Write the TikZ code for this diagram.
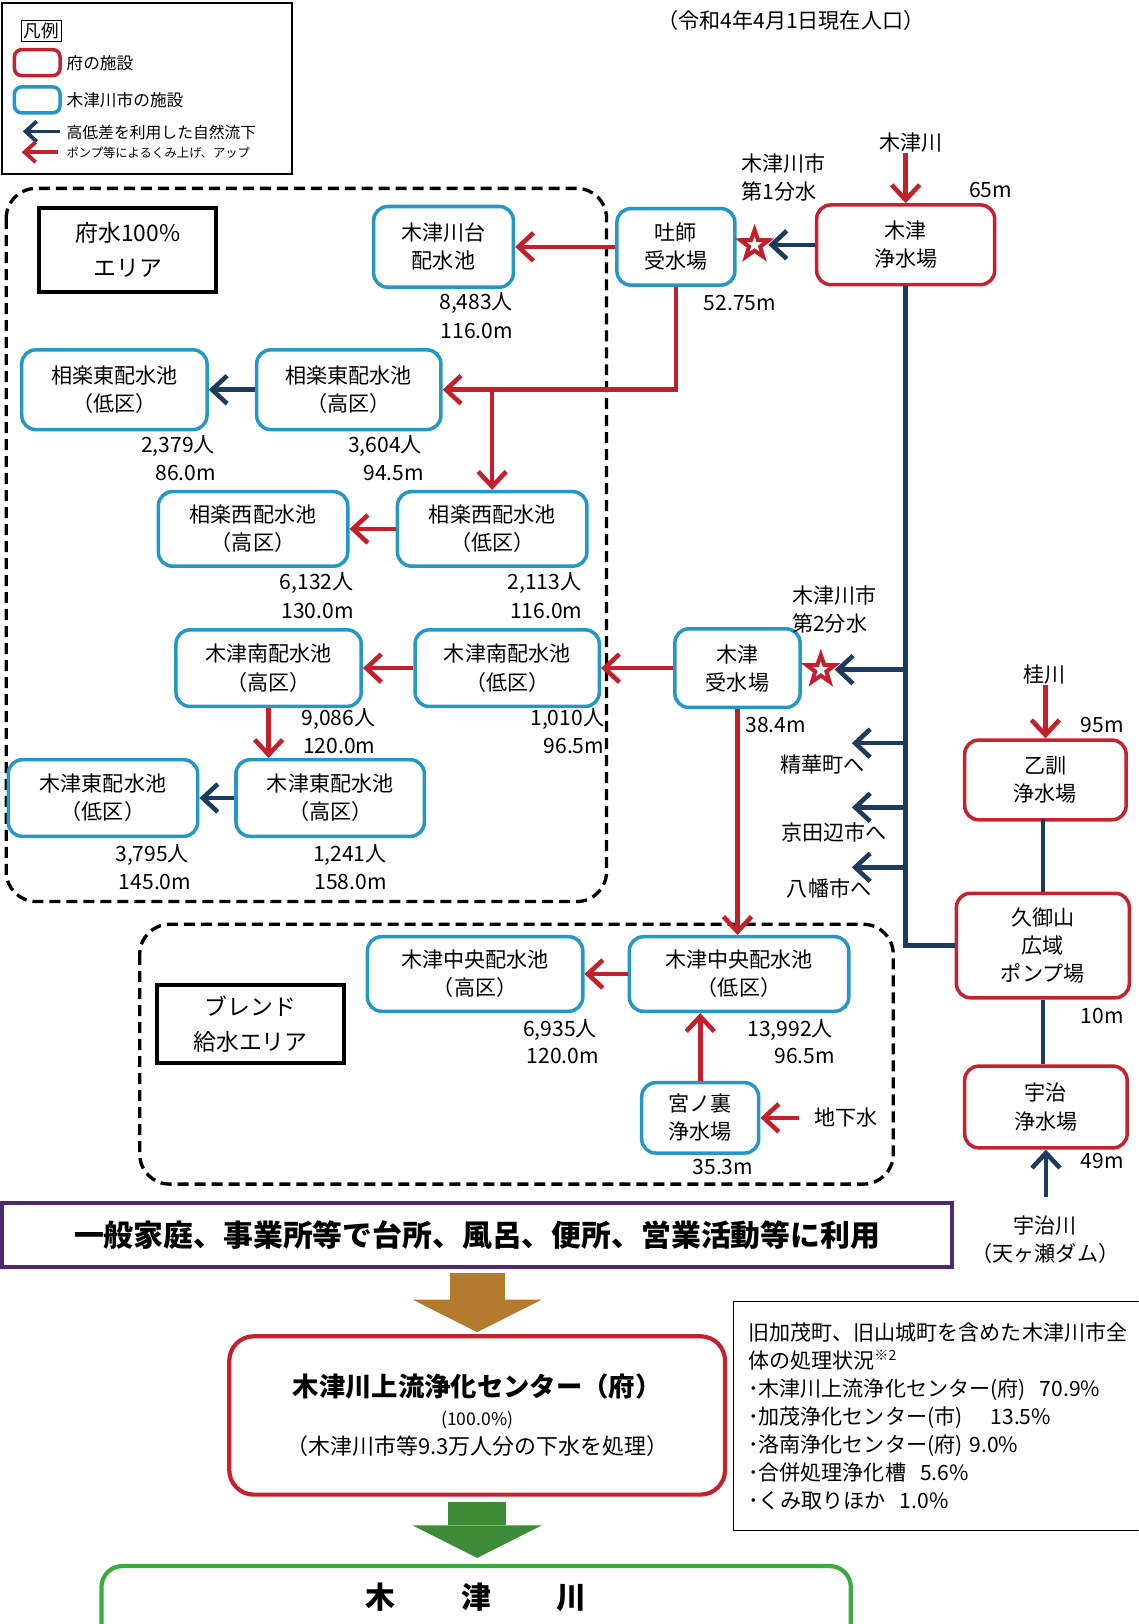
\documentclass[tikz,border=0pt]{standalone}
\usepackage{fontspec}
\setmainfont{Noto Sans CJK JP}
\usetikzlibrary{arrows.meta,shapes.geometric}

\definecolor{prefred}{HTML}{C6212E}
\definecolor{cityblue}{HTML}{2397C6}
\definecolor{navy}{HTML}{1D3B5F}
\definecolor{pumpred}{HTML}{C3202C}
\definecolor{usepurple}{HTML}{52296F}
\definecolor{sewerbrown}{HTML}{B47A2E}
\definecolor{riverline}{HTML}{3DAA3F}
\definecolor{riverarrow}{HTML}{3E8B37}

\tikzset{
  sz/.style 2 args={minimum width=#1*0.2071mm, minimum height=#2*0.2071mm},
  fac/.style={rounded corners=8pt, line width=2pt, fill=white, align=center, inner sep=0pt, font=\fontsize{12}{16}\selectfont},
  fu/.style={fac, draw=prefred},
  shi/.style={fac, draw=cityblue},
  tag/.style={draw, line width=2.2pt, align=center, inner sep=0pt, font=\fontsize{13}{20}\selectfont},
  area/.style={draw, line width=1.9pt, rounded corners=17pt, dash pattern=on 2.2mm off 1.2mm},
  lbl/.style={anchor=east, inner sep=0pt, font=\fontsize{12}{15}\selectfont},
  txt/.style={inner sep=0pt, font=\fontsize{12}{16}\selectfont},
  nat/.style={draw=navy, line width=2.6pt, -{Straight Barb[length=3mm, width=5.6mm]}},
  pmp/.style={draw=pumpred, line width=2.6pt, -{Straight Barb[length=3mm, width=5.6mm]}},
  pipe/.style={draw=navy, line width=2.6pt},
  blk/.style={line width=#1, -{Triangle[length=6.5mm, width=25.8mm, line width=0pt]}},
  bunsui/.style={star, star points=5, star point ratio=2.5, draw=pumpred, fill=white, line width=2.3pt, inner sep=0pt, minimum size=5.9mm},
}

\begin{document}
\begin{tikzpicture}[x=0.2071mm, y=-0.2071mm]
    \useasboundingbox (0, 0) rectangle (1100, 1569);
    \clip (0, 0) rectangle (1100, 1569);
    \fill[white] (0, 0) rectangle (1100, 1569);
    \draw[line width=0.8pt] (2, 3) rectangle (282, 168);
    \node[draw, line width=0.7pt, inner sep=1.5pt, font=\fontsize{10}{12}\selectfont] (lgT) at (40, 30){凡例};
    \node[fac, draw=prefred, sz={44}{25}, rounded corners=4pt] (lgF) at (36, 60.5){};
    \node[fac, draw=cityblue, sz={44}{25}, rounded corners=4pt] (lgS) at (36, 96.5){};
    \node[anchor=west, inner sep=0pt, font=\fontsize{9.5}{12}\selectfont] (lgFt) at (64, 61){府の施設};
    \node[anchor=west, inner sep=0pt, font=\fontsize{9.5}{12}\selectfont] (lgSt) at (64, 97){木津川市の施設};
    \node[anchor=west, inner sep=0pt, font=\fontsize{9}{12}\selectfont] (lgNt) at (64, 128){高低差を利用した自然流下};
    \node[anchor=west, inner sep=0pt, font=\fontsize{7}{9}\selectfont] (lgPt) at (64, 148){ポンプ等によるくみ上げ、アップ};
    \coordinate (lgN0) at (58, 127);
    \coordinate (lgN1) at (22, 127);
    \coordinate (lgP0) at (56, 147);
    \coordinate (lgP1) at (21, 147);
    \draw[nat, line width=2.2pt, -{Straight Barb[length=2.2mm, width=4mm]}] (lgN0) -- (lgN1);
    \draw[pmp, line width=2.2pt, -{Straight Barb[length=2.2mm, width=4mm]}] (lgP0) -- (lgP1);
    \node[txt, font=\fontsize{12}{14}\selectfont] (date) at (764, 20){（令和4年4月1日現在人口）};

    \draw[area] (6, 182) rectangle (586, 871);
    \draw[area] (135, 893) rectangle (863, 1144);
    \node[tag, sz={171}{81}] (T1) at (123.5, 241.5){府水100\%\\エリア};
    \node[tag, sz={180}{75}] (T2) at (242, 989.5){ブレンド\\給水エリア};

    \node[fu, sz={172}{77}] (KJ) at (875, 236.5){木津\\浄水場};
    \node[shi, sz={114}{74}] (HJ) at (653, 238.5){吐師\\受水場};
    \node[shi, sz={135}{78}] (KD) at (428.5, 238.5){木津川台\\配水池};
    \node[shi, sz={179}{77}] (SHL) at (110.5, 376.5){相楽東配水池\\（低区）};
    \node[shi, sz={178}{77}] (SHH) at (337, 376.5){相楽東配水池\\（高区）};
    \node[shi, sz={183}{72}] (SWH) at (244.5, 511){相楽西配水池\\（高区）};
    \node[shi, sz={183}{72}] (SWL) at (475.5, 511){相楽西配水池\\（低区）};
    \node[shi, sz={179}{74}] (MSH) at (259.5, 645.5){木津南配水池\\（高区）};
    \node[shi, sz={178}{74}] (MSL) at (490, 645.5){木津南配水池\\（低区）};
    \node[shi, sz={121}{76}] (KSJ) at (712.5, 645.5){木津\\受水場};
    \node[shi, sz={183}{74}] (KEL) at (99.5, 771){木津東配水池\\（低区）};
    \node[shi, sz={182}{74}] (KEH) at (319, 771){木津東配水池\\（高区）};
    \node[shi, sz={208}{72}] (CH) at (459, 941){木津中央配水池\\（高区）};
    \node[shi, sz={212}{72}] (CL) at (714, 941){木津中央配水池\\（低区）};
    \node[shi, sz={113}{68}] (MU) at (676.5, 1080){宮ノ裏\\浄水場};
    \node[fu, sz={156}{77}] (OT) at (1010, 753.5){乙訓\\浄水場};
    \node[fu, sz={167}{101}] (KM) at (1007.5, 913.5){久御山\\広域\\ポンプ場};
    \node[fu, sz={157}{79}] (UJ) at (1010.5, 1069.5){宇治\\浄水場};

    \node[bunsui] (S1) at (729, 236.5){};
    \node[bunsui] (S2) at (793, 647){};
    \node[txt, align=left, anchor=west] (b1) at (716, 171.5){木津川市\\第1分水};
    \node[txt, align=left, anchor=west] (b2) at (765, 588.5){木津川市\\第2分水};
    \node[txt] (rKizu) at (880, 138){木津川};
    \node[txt] (rKatsura) at (1009, 652){桂川};
    \node[txt, align=center] (rUji) at (1010, 1198){宇治川\\（天ヶ瀬ダム）};
    \node[txt] (gw) at (817, 1080){地下水};
    \coordinate (toSK) at (823, 718);
    \coordinate (toKT) at (823, 780);
    \coordinate (toYW) at (823, 838);
    \node[txt] (lSK) at (795, 739){精華町へ};
    \node[txt] (lKT) at (806, 804){京田辺市へ};
    \node[txt] (lYW) at (801, 858){八幡市へ};

    \node[lbl] (pKD) at (496, 293){8,483人};
    \node[lbl] (hKD) at (496, 320){116.0m};
    \node[lbl] (pSHL) at (208, 431){2,379人};
    \node[lbl] (hSHL) at (209, 457){86.0m};
    \node[lbl] (pSHH) at (408, 431){3,604人};
    \node[lbl] (hSHH) at (410, 457){94.5m};
    \node[lbl] (pSWH) at (342, 563){6,132人};
    \node[lbl] (hSWH) at (342, 590){130.0m};
    \node[lbl] (pSWL) at (562, 563){2,113人};
    \node[lbl] (hSWL) at (563, 590){116.0m};
    \node[lbl] (pMSH) at (363, 695){9,086人};
    \node[lbl] (hMSH) at (363, 721){120.0m};
    \node[lbl] (pMSL) at (584, 695){1,010人};
    \node[lbl] (hMSL) at (584, 721){96.5m};
    \node[lbl] (pKEL) at (183, 826){3,795人};
    \node[lbl] (hKEL) at (185, 852){145.0m};
    \node[lbl] (pKEH) at (374, 826){1,241人};
    \node[lbl] (hKEH) at (374, 852){158.0m};
    \node[lbl] (pCH) at (577, 995){6,935人};
    \node[lbl] (hCH) at (579, 1020){120.0m};
    \node[lbl] (pCL) at (805, 995){13,992人};
    \node[lbl] (hCL) at (807, 1020){96.5m};
    \node[lbl] (hHJ) at (750, 293){52.75m};
    \node[lbl] (hKSJ) at (779, 700){38.4m};
    \node[lbl] (hMU) at (728, 1127){35.3m};
    \node[lbl] (hKJ) at (978, 184){65m};
    \node[lbl] (hOT) at (1086, 700){95m};
    \node[lbl] (hKM) at (1086, 982){10m};
    \node[lbl] (hUJ) at (1086, 1122){49m};

    \draw[pmp] (KJ.north |- rKizu.south) -- (KJ.north);
    \draw[pipe] (KJ.south) |- (KM.west);
    \draw[nat, shorten >=0.5mm] (KJ.west) -- (S1.east);
    \draw[pmp] (HJ.west) -- (KD.east);
    \draw[pmp] (HJ.south) |- (SHH.east);
    \draw[pmp] (SWL.north |- SHH.east) -- (SWL.north);
    \draw[nat] (SHH.west) -- (SHL.east);
    \draw[pmp] (SWL.west) -- (SWH.east);
    \draw[nat, shorten >=0.5mm] (KJ.south |- S2.east) -- (S2.east);
    \draw[nat] (KJ.south |- toSK) -- (toSK);
    \draw[nat] (KJ.south |- toKT) -- (toKT);
    \draw[nat] (KJ.south |- toYW) -- (toYW);
    \draw[pmp] (KSJ.west) -- (MSL.east);
    \draw[pmp] (MSL.west) -- (MSH.east);
    \draw[pmp] (MSH.south) -- (MSH.south |- KEH.north);
    \draw[nat] (KEH.west) -- (KEL.east);
    \draw[pmp] (KSJ.south) -- (KSJ.south |- CL.north);
    \draw[pmp] (CL.west) -- (CH.east);
    \draw[pmp] (MU.north) -- (MU.north |- CL.south);
    \draw[pmp, shorten <=3mm] (gw.west) -- (MU.east);
    \draw[pmp] (OT.north |- rKatsura.south) -- (OT.north);
    \draw[pipe] (OT.south) -- (KM.south |- OT.south) -- (KM.north);
    \draw[pipe] (KM.south) -- (KM.south |- UJ.north);
    \draw[nat, shorten <=3.7mm] (UJ.south |- rUji.north) -- (UJ.south);

    \node[draw=usepurple, line width=2.4pt, sz={918}{62}, inner sep=0pt, font=\bfseries\fontsize{17}{20}\selectfont] (use) at (461, 1193){一般家庭、事業所等で台所、風呂、便所、営業活動等に利用};
    \node[fu, sz={479}{153}, rounded corners=14pt, line width=2.4pt, font=\fontsize{12.5}{16.5}\selectfont] (sewer) at (461, 1367.5){{\bfseries\fontsize{15}{16.5}\selectfont 木津川上流浄化センター（府）}\\{\fontsize{10}{16.5}\selectfont (100.0\%)}\\（木津川市等9.3万人分の下水を処理）};
    \node[draw=riverline, line width=2.4pt, rounded corners=12pt, sz={724}{140}, inner sep=0pt] (river) at (460, 1583){};
    \node[font=\bfseries\fontsize{17}{20}\selectfont, inner sep=0pt] (riverT) at (460, 1543){木\hspace{2.2em}津\hspace{2.2em}川};
    \draw[blk=11mm, sewerbrown, shorten <=0.8mm, shorten >=0.4mm] (use.south) -- (sewer.north);
    \draw[blk=11.6mm, riverarrow, shorten <=1mm, shorten >=1.2mm] (sewer.south) -- (sewer.south |- river.north);
    \node[draw, line width=0.8pt, anchor=north west, text width=80mm, inner xsep=2.9mm, inner ysep=0pt, minimum height=221*0.2071mm, align=left, font=\fontsize{12}{15.9}\selectfont] (note) at (708, 1257){旧加茂町、旧山城町を含めた木津川市全\\体の処理状況\textsuperscript{※2}\\･木津川上流浄化センター(府)\ \ 70.9\%\\･加茂浄化センター(市)\quad\ 13.5\%\\･洛南浄化センター(府)\ 9.0\%\\･合併処理浄化槽\ \ 5.6\%\\･くみ取りほか\ \ 1.0\%};
  \end{tikzpicture}
\end{document}
